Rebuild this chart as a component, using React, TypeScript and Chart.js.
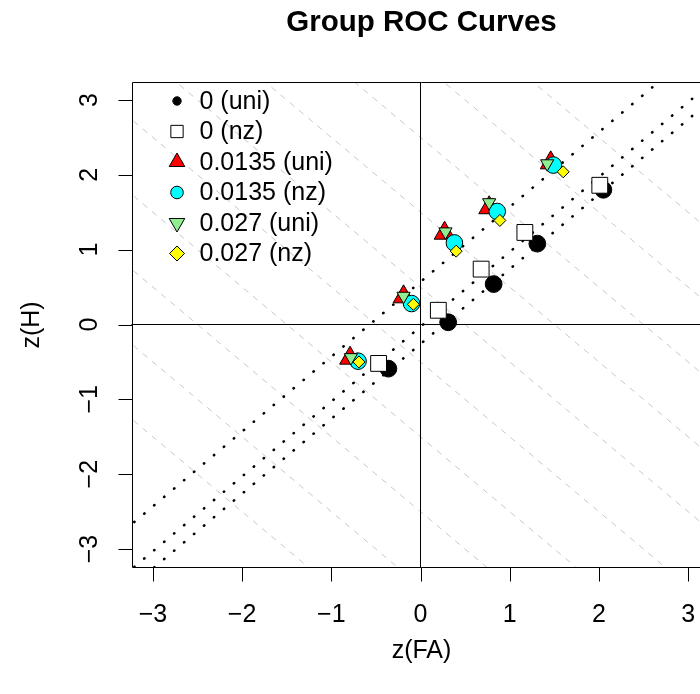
import React, { useEffect, useRef } from "react";
import { Chart, registerables } from "chart.js";

Chart.register(...registerables);

// ---------- data ----------
const chartTitle = "Group ROC Curves";
const xAxisTitle = "z(FA)";
const yAxisTitle = "z(H)";
const groupLabels = ["0 (uni)", "0 (nz)", "0.0135 (uni)", "0.0135 (nz)", "0.027 (uni)", "0.027 (nz)"];

const uni0X = [-0.36, 0.31, 0.82, 1.31, 2.05];
const uni0Y = [-0.59, 0.03, 0.54, 1.08, 1.8];
const nz0X = [-0.47, 0.2, 0.68, 1.17, 2.01];
const nz0Y = [-0.52, 0.19, 0.74, 1.23, 1.86];
const uni0135X = [-0.79, -0.19, 0.27, 0.77, 1.46];
const uni0135Y = [-0.45, 0.37, 1.22, 1.56, 2.16];
const nz0135X = [-0.7, -0.1, 0.38, 0.86, 1.49];
const nz0135Y = [-0.49, 0.28, 1.09, 1.51, 2.13];
const uni027X = [-0.78, -0.19, 0.28, 0.77, 1.42];
const uni027Y = [-0.44, 0.38, 1.24, 1.63, 2.15];
const nz027X = [-0.69, -0.08, 0.4, 0.89, 1.6];
const nz027Y = [-0.5, 0.27, 0.98, 1.39, 2.04];

const groupXs = [uni0X, nz0X, uni0135X, nz0135X, uni027X, nz027X];
const groupYs = [uni0Y, nz0Y, uni0135Y, nz0135Y, uni027Y, nz027Y];

// ROC reference lines (dotted): zH = a + b * zFA
const rocIntercepts = [0.57, -0.03, -0.26];
const rocSlopes = [1, 1, 1];
// iso-bias lines (grey dashed): zH = k - zFA
const biasIntercepts = [-4.5, -3.5, -2.5, -1.5, -0.5, 0.5, 1.5, 2.5, 3.5, 4.5];
const biasSlope = -1;

const xTicks = [-3, -2, -1, 0, 1, 2, 3];
const yTicks = [-3, -2, -1, 0, 1, 2, 3];
const axisMin = -3.24;
const axisMax = 3.24;

// ---------- styles ----------
type MarkerStyle = { pointStyle: string; rotation: number; radius: number; legendRadius: number; bg: string };
const markerStyles: MarkerStyle[] = [
  { pointStyle: "circle", rotation: 0, radius: 8.4, legendRadius: 4.2, bg: "#000000" },
  { pointStyle: "rect", rotation: 0, radius: 11.2, legendRadius: 8.7, bg: "#ffffff" },
  { pointStyle: "triangle", rotation: 0, radius: 12, legendRadius: 9, bg: "#ff0000" },
  { pointStyle: "circle", rotation: 0, radius: 8.3, legendRadius: 6.3, bg: "#00ffff" },
  { pointStyle: "triangle", rotation: 180, radius: 7.6, legendRadius: 9, bg: "#90ee90" },
  { pointStyle: "rectRot", rotation: 0, radius: 6, legendRadius: 7.5, bg: "#ffff00" },
];

const FONT = '"Liberation Sans", Arial, Helvetica, sans-serif';
const MINUS = "\u2212";
const fmt = (v: number) => (v < 0 ? MINUS + Math.abs(v) : String(v));

function drawMarker(ctx: CanvasRenderingContext2D, s: MarkerStyle, x: number, y: number, r: number) {
  ctx.save();
  ctx.beginPath();
  if (s.pointStyle === "circle") {
    ctx.arc(x, y, r, 0, Math.PI * 2);
  } else if (s.pointStyle === "rect") {
    const h = r * Math.SQRT1_2;
    ctx.rect(x - h, y - h, 2 * h, 2 * h);
  } else if (s.pointStyle === "triangle") {
    let a = (s.rotation * Math.PI) / 180;
    for (let i = 0; i < 3; i++) {
      const px = x + Math.sin(a) * r;
      const py = y - Math.cos(a) * r;
      if (i === 0) ctx.moveTo(px, py);
      else ctx.lineTo(px, py);
      a += (2 * Math.PI) / 3;
    }
    ctx.closePath();
  } else if (s.pointStyle === "rectRot") {
    ctx.moveTo(x - r, y);
    ctx.lineTo(x, y - r);
    ctx.lineTo(x + r, y);
    ctx.lineTo(x, y + r);
    ctx.closePath();
  }
  ctx.fillStyle = s.bg;
  ctx.fill();
  ctx.lineWidth = 1;
  ctx.strokeStyle = "#000000";
  ctx.stroke();
  ctx.restore();
}

const lineEnds = (a: number, b: number) => [
  { x: -6, y: a + b * -6 },
  { x: 6, y: a + b * 6 },
];

const decorPlugin = {
  id: "rDecor",
  afterDraw(chart: any) {
    const ctx: CanvasRenderingContext2D = chart.ctx;
    const { left, right, top, bottom } = chart.chartArea;
    const xs = chart.scales.x;
    const ys = chart.scales.y;
    const L = Math.round(left) + 0.5;
    const R = Math.round(right) + 0.5;
    const T = Math.round(top) + 0.5;
    const B = Math.round(bottom) + 0.5;
    ctx.save();
    ctx.strokeStyle = "#000000";
    ctx.lineWidth = 1;
    ctx.beginPath();
    ctx.rect(L, T, R - L, B - T);
    ctx.stroke();

    const tickLen = 14;
    ctx.fillStyle = "#000000";
    ctx.font = `25px ${FONT}`;
    // x ticks
    ctx.beginPath();
    xTicks.forEach((v) => {
      const px = Math.round(xs.getPixelForValue(v)) + 0.5;
      ctx.moveTo(px, B);
      ctx.lineTo(px, B + tickLen);
    });
    ctx.stroke();
    ctx.textAlign = "center";
    ctx.textBaseline = "alphabetic";
    xTicks.forEach((v) => {
      ctx.fillText(fmt(v), xs.getPixelForValue(v), 622);
    });
    // y ticks
    ctx.beginPath();
    yTicks.forEach((v) => {
      const py = Math.round(ys.getPixelForValue(v)) + 0.5;
      ctx.moveTo(L, py);
      ctx.lineTo(L - tickLen, py);
    });
    ctx.stroke();
    yTicks.forEach((v) => {
      ctx.save();
      ctx.translate(97, ys.getPixelForValue(v));
      ctx.rotate(-Math.PI / 2);
      ctx.textAlign = "center";
      ctx.textBaseline = "alphabetic";
      ctx.fillText(fmt(v), 0, 0);
      ctx.restore();
    });
    // axis titles
    ctx.textAlign = "center";
    ctx.fillText(xAxisTitle, (L + R) / 2, 658);
    ctx.save();
    ctx.translate(39, (T + B) / 2);
    ctx.rotate(-Math.PI / 2);
    ctx.fillText(yAxisTitle, 0, 0);
    ctx.restore();
    // main title
    ctx.font = `bold 29.5px ${FONT}`;
    ctx.fillText(chartTitle, (L + R) / 2, 31);

    // legend
    ctx.font = `25px ${FONT}`;
    ctx.textAlign = "left";
    ctx.textBaseline = "middle";
    groupLabels.forEach((lab, i) => {
      const yy = 101 + i * 30.5;
      drawMarker(ctx, markerStyles[i], 177, yy, markerStyles[i].legendRadius);
      ctx.fillStyle = "#000000";
      ctx.fillText(lab, 199.5, yy + 1);
    });
    ctx.restore();
  },
};

export default function App() {
  const ref = useRef<HTMLCanvasElement>(null);
  useEffect(() => {
    const datasets: any[] = [];
    biasIntercepts.forEach((k) => {
      datasets.push({
        type: "line",
        data: lineEnds(k, biasSlope),
        borderColor: "#c8c8c8",
        borderWidth: 1,
        borderDash: [6, 6],
        pointRadius: 0,
        fill: false,
        order: 300,
      });
    });
    [0].forEach((h) => {
      datasets.push({
        type: "line",
        data: [
          { x: -6, y: h },
          { x: 6, y: h },
        ],
        borderColor: "#000000",
        borderWidth: 1,
        pointRadius: 0,
        fill: false,
        order: 250,
      });
      datasets.push({
        type: "line",
        data: [
          { x: h, y: -6 },
          { x: h, y: 6 },
        ],
        borderColor: "#000000",
        borderWidth: 1,
        pointRadius: 0,
        fill: false,
        order: 250,
      });
    });
    rocIntercepts.forEach((a, i) => {
      datasets.push({
        type: "line",
        data: lineEnds(a, rocSlopes[i]),
        borderColor: "#000000",
        borderWidth: 2.6,
        borderDash: [0.3, 12.7],
        borderCapStyle: "round",
        pointRadius: 0,
        fill: false,
        order: 200,
      });
    });
    groupLabels.forEach((lab, i) => {
      const s = markerStyles[i];
      datasets.push({
        type: "scatter",
        label: lab,
        data: groupXs[i].map((x, j) => ({ x, y: groupYs[i][j] })),
        pointStyle: s.pointStyle,
        pointRotation: s.rotation,
        pointRadius: s.radius,
        pointHoverRadius: s.radius,
        pointBackgroundColor: s.bg,
        pointBorderColor: "#000000",
        pointBorderWidth: 1,
        order: 10 - i,
      });
    });

    const chart = new Chart(ref.current as HTMLCanvasElement, {
      type: "scatter",
      data: { datasets },
      options: {
        animation: false,
        responsive: false,
        devicePixelRatio: 1,
        events: [],
        layout: { padding: { left: 131.5, right: 50.5, top: 82, bottom: 127 } },
        plugins: { legend: { display: false }, tooltip: { enabled: false }, title: { display: false } },
        scales: {
          x: { type: "linear", min: axisMin, max: axisMax, display: false },
          y: { type: "linear", min: axisMin, max: axisMax, display: false },
        },
      },
      plugins: [decorPlugin],
    } as any);
    return () => chart.destroy();
  }, []);

  return (
    <div
      style={{
        position: "fixed",
        left: 0,
        top: 0,
        width: 700,
        height: 694,
        overflow: "hidden",
        background: "#ffffff",
      }}
    >
      <canvas ref={ref} width={760} height={694} style={{ display: "block", width: 760, height: 694 }} />
    </div>
  );
}
